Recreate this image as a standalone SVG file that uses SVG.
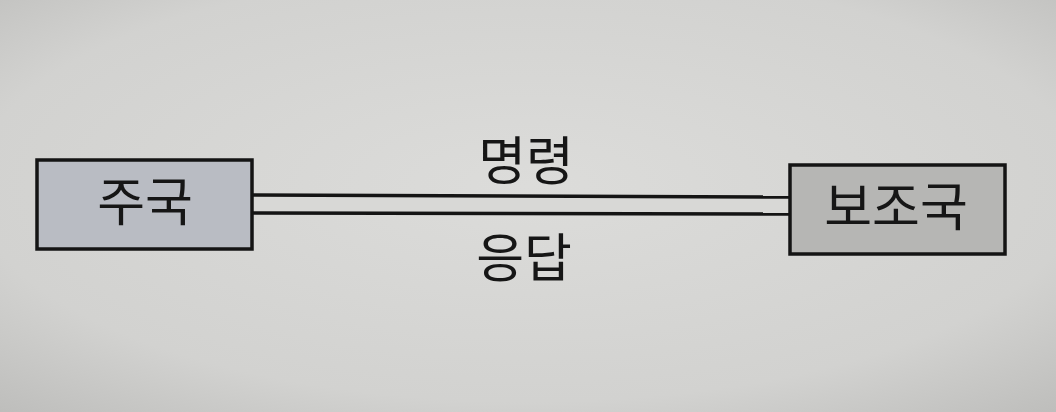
<svg xmlns="http://www.w3.org/2000/svg" width="1056" height="412" viewBox="0 0 1056 412">
<defs>
<radialGradient id="bg" cx="0.5" cy="0.45" r="0.75">
<stop offset="0" stop-color="#dcdcda"/>
<stop offset="0.7" stop-color="#d2d2d0"/>
<stop offset="1" stop-color="#bdbdbb"/>
</radialGradient>
</defs>
<style>
.box{stroke:#141414;stroke-width:3.5}
.t{font-family:"Noto Sans CJK KR","Noto Sans",sans-serif;fill:#161616;text-anchor:middle;font-size:52px;font-weight:400}
.ln{stroke:#141414;stroke-width:3.5;fill:none}
</style>
<rect width="1056" height="412" fill="url(#bg)"/>
<g id="connectors">
<rect x="252" y="196" width="538" height="17" fill="#d8d8d6"/>
<line class="ln" x1="252" y1="195" x2="790" y2="197"/>
<line class="ln" x1="252" y1="213" x2="790" y2="214"/>
<text class="t" x="526" y="180">명령</text>
<text class="t" x="524" y="277">응답</text>
</g>
<g id="node-main">
<rect class="box" x="37" y="160" width="215" height="89" fill="#b9bcc3"/>
<text class="t" x="145" y="221">주국</text>
</g>
<g id="node-sub">
<rect class="box" x="790" y="165" width="215" height="89" fill="#b6b6b4"/>
<text class="t" x="896" y="226">보조국</text>
</g>
</svg>
